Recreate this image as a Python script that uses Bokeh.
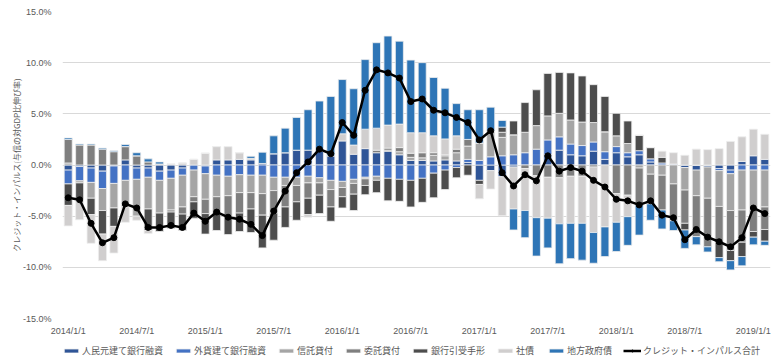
import numpy as np
from bokeh.plotting import figure
from bokeh.layouts import column
from bokeh.models import ColumnDataSource, Legend, LegendItem, FixedTicker, PrintfTickFormatter, Range1d
from bokeh.embed import file_html
from bokeh.resources import INLINE

# ---- data (percent, monthly 2014/1 .. 2019/2) ----
rmb = [-0.5, -0.15, -0.3, -0.6, -0.1, 0.5, -0.3, -0.3, -0.6, -0.5, -0.3, 0.0, -0.1, 0.5, 0.5, 0.55,
       0.5, 0.15, 1.1, 1.2, 1.45, 1.45, 1.35, 0.9, 2.35, 1.05, 1.6, 1.2, 1.35, 1.0, 0.45, 0.45,
       0.4, 0.5, 0.4, 0.25, -1.5, -0.55, -1.15, -0.2, 0.0, 0.0, 1.0, 1.45, 1.0, 0.9, 1.35, 0.55,
       1.2, 0.8, 1.0, 0.3, 0.0, 0.0, -0.25, -0.5, -0.2, -0.35, -0.5, 0.35, 0.9, 0.55]
fx = [-1.35, -1.4, -1.4, -1.7, -1.7, -1.5, -1.1, -0.9, -0.9, -0.8, -0.7, -0.5, -0.75, -1.0, -1.1, -0.95,
      -1.0, -1.0, -1.2, -1.2, -1.2, -1.1, -1.25, -1.5, -1.6, -1.4, -1.2, -1.1, -1.3, -1.4, -1.5, -1.3,
      -0.8, -0.5, -0.25, 0.3, 0.45, 0.8, 0.9, 1.0, 1.2, 1.55, 1.45, 1.3, 1.05, 1.0, 0.9, 0.75,
      0.6, 0.4, 0.4, 0.3, 0.2, 0.1, 0.0, 0.0, 0.0, -0.2, -0.35, -0.5, -0.5, -0.5]
trust = [0.2, -0.2, -1.55, -2.15, -2.4, -2.6, -3.6, -3.1, -3.2, -3.1, -3.1, -2.6, -2.5, -2.1, -1.9, -1.75,
         -1.7, -1.8, -1.3, -0.8, -0.8, -0.65, -0.5, -0.9, -0.6, -0.4, -0.15, -0.4, 0.1, 0.3, 0.3, 0.25,
         0.55, 0.4, 0.8, 1.3, 1.7, 2.55, 1.8, 1.95, 2.0, 2.3, 2.35, 2.3, 2.35, 2.3, 1.9, 1.95,
         1.05, 0.9, -0.3, -0.9, -1.0, -1.85, -2.2, -2.5, -3.05, -3.5, -3.6, -3.9, -3.9, -3.6]
entrusted = [2.3, 1.95, 1.95, 1.55, 1.3, 1.3, 0.9, 0.3, 0.1, -0.2, -0.7, -0.5, -1.4, -1.7, -2.1, -2.0,
             -1.6, -2.1, -2.2, -2.1, -1.6, -1.5, -1.2, -1.7, -0.9, -1.05, -0.65, 0.25, 0.2, 0.4, 0.4, 0.5,
             0.25, 0.1, 0.35, 0.65, 0.0, 0.0, 0.5, 0.0, -0.35, -1.05, -1.2, -1.25, -1.1, -1.1, -0.2, 0.0,
             -2.8, -2.95, -3.6, -2.9, -3.4, -3.6, -3.25, -4.0, -4.75, -3.5, -3.9, -3.15, -2.1, -2.2]
acceptance = [-2.1, -1.6, -1.6, -2.3, -1.8, 0.0, 0.0, -2.1, -1.8, -1.6, -1.6, -1.6, -2.0, -1.6, -1.7, -1.8,
              -2.3, -3.2, -2.65, -2.0, -1.8, -1.6, -1.8, -1.4, -1.1, -1.6, -0.9, -1.2, -2.2, -2.15, -2.6, -2.35,
              -2.4, -1.9, -1.0, -1.0, -0.4, 0.0, 0.5, 1.35, 2.9, 3.5, 4.15, 4.0, 4.6, 4.5, 3.7, 3.45,
              2.2, 2.2, 1.5, 1.1, 0.55, 0.0, -0.65, 0.0, 0.0, -1.5, -1.0, -1.4, -0.55, -1.15]
bonds = [-2.0, -2.0, -2.8, -2.6, -2.6, -1.5, -0.4, -0.3, 0.0, 0.1, 0.2, 0.55, 1.15, 1.3, 1.3, 0.65,
         0.15, 0.0, 0.0, 0.0, 0.0, -0.25, 0.0, 0.0, 0.7, 0.9, 1.9, 2.15, 2.25, 2.3, 2.0, 1.95,
         1.65, 1.55, 1.3, 0.0, -1.4, -1.8, -3.8, -4.1, -4.1, -4.1, -4.0, -4.5, -4.6, -4.6, -6.4, -6.05,
         -2.8, -2.1, 0.0, 0.0, 0.6, 1.1, 0.95, 1.55, 1.5, 1.6, 2.3, 2.4, 2.6, 2.45]
localgov = [0.15, 0.1, 0.1, 0.1, 0.1, 0.2, 0.3, 0.3, 0.2, 0.0, 0.0, 0.0, 0.0, 0.0, 0.0, 0.0,
            0.2, 1.1, 1.75, 2.4, 3.2, 3.95, 4.9, 5.8, 5.3, 5.5, 6.8, 8.35, 8.7, 8.1, 7.1, 6.85,
            5.7, 4.95, 3.15, 2.9, 3.25, 2.3, 0.65, -2.05, -2.65, -3.75, -2.9, -3.9, -3.45, -3.6, -3.0, -2.9,
            -2.85, -2.8, -2.95, -1.6, -1.85, -0.95, -1.8, -0.8, -0.5, -0.4, -0.9, -0.9, -0.75, -0.4]
impulse = [-3.2, -3.4, -5.7, -7.6, -7.1, -3.8, -4.2, -6.1, -6.1, -5.9, -6.1, -4.7, -5.5, -4.6, -5.1, -5.3,
           -5.8, -6.9, -4.5, -2.55, -0.75, 0.3, 1.55, 1.1, 4.15, 2.9, 7.3, 9.3, 9.0, 8.5, 6.2, 6.45,
           5.35, 5.1, 4.65, 4.15, 2.45, 3.35, -0.75, -2.05, -0.95, -1.55, 0.9, -0.6, -0.25, -0.6, -1.5, -2.15,
           -3.35, -3.5, -3.9, -3.5, -4.9, -5.15, -7.3, -6.3, -7.05, -7.5, -8.0, -7.1, -4.2, -4.75]

series_names = ["人民元建て銀行融資", "外貨建て銀行融資", "信託貸付", "委託貸付", "銀行引受手形", "社債", "地方政府債"]
line_name = "クレジット・インパルス合計"
tick_positions = [0, 6, 12, 18, 24, 30, 36, 42, 48, 54, 60]
tick_labels = ["2014/1/1", "2014/7/1", "2015/1/1", "2015/7/1", "2016/1/1", "2016/7/1",
               "2017/1/1", "2017/7/1", "2018/1/1", "2018/7/1", "2019/1/1"]
y_ticks = [-15, -10, -5, 0, 5, 10, 15]

colors = ["#2F5597", "#4472C4", "#A5A5A5", "#7F7F7F", "#4D4D4D", "#D0CECE", "#2E75B6"]
bar_edge = "#EDEDED"

n = len(impulse)
x = np.arange(n)

# ---------------- main chart ----------------
p = figure(width=780, height=340, output_backend="svg", toolbar_location=None,
           x_range=Range1d(-0.5, n - 0.5), y_range=Range1d(-15, 15),
           min_border_left=62, min_border_right=10, min_border_top=11, min_border_bottom=22)
p.outline_line_color = None
p.background_fill_color = "white"

pos_base = np.zeros(n)
neg_base = np.zeros(n)
sources = []
for vals, col in zip([rmb, fx, trust, entrusted, acceptance, bonds, localgov], colors):
    v = np.array(vals, dtype=float)
    bottom = np.where(v >= 0, pos_base, neg_base)
    top = bottom + v
    pos_base = pos_base + np.where(v > 0, v, 0)
    neg_base = neg_base + np.where(v < 0, v, 0)
    src = ColumnDataSource(dict(x=x, bottom=bottom, top=top))
    sources.append(src)
    p.vbar(x="x", bottom="bottom", top="top", width=0.7, source=src,
           fill_color=col, line_color=bar_edge, line_width=0.8)

lsrc = ColumnDataSource(dict(x=x, y=impulse))
p.line("x", "y", source=lsrc, line_color="black", line_width=2.5)
p.scatter("x", "y", source=lsrc, marker="circle", size=6, fill_color="black", line_color="black")

p.xaxis.ticker = FixedTicker(ticks=tick_positions)
p.xaxis.major_label_overrides = {t: l for t, l in zip(tick_positions, tick_labels)}
p.xaxis.axis_line_color = None
p.xaxis.major_tick_line_color = None
p.xaxis.minor_tick_line_color = None
p.xaxis.major_label_standoff = 1
p.xaxis.major_label_text_font = "Liberation Sans"
p.xaxis.major_label_text_font_size = "9px"
p.xaxis.major_label_text_color = "#595959"

p.yaxis.ticker = FixedTicker(ticks=y_ticks)
p.yaxis.formatter = PrintfTickFormatter(format="%.1f%%")
p.yaxis.axis_line_color = None
p.yaxis.major_tick_line_color = None
p.yaxis.minor_tick_line_color = None
p.yaxis.major_label_standoff = 5
p.yaxis.major_label_text_font = "Liberation Sans"
p.yaxis.major_label_text_font_size = "9px"
p.yaxis.major_label_text_color = "#595959"
p.yaxis.axis_label = "クレジット・インパルス(与信の対GDP比伸び率)"
p.yaxis.axis_label_text_font = "Noto Sans CJK JP"
p.yaxis.axis_label_text_font_size = "8px"
p.yaxis.axis_label_text_font_style = "normal"
p.yaxis.axis_label_text_color = "#595959"
p.yaxis.axis_label_standoff = -2

p.xgrid.grid_line_color = None
p.ygrid.ticker = FixedTicker(ticks=y_ticks)
p.ygrid.grid_line_color = "#D9D9D9"
p.ygrid.grid_line_width = 1

# ---------------- legend strip (same sources, data kept out of view) ----------------
lg = figure(width=780, height=21, output_backend="svg", toolbar_location=None,
            x_axis_location=None, y_axis_location=None,
            x_range=Range1d(-0.5, n - 0.5), y_range=Range1d(100, 101),
            min_border_left=0, min_border_right=0, min_border_top=0, min_border_bottom=0)
lg.outline_line_color = None
lg.xgrid.grid_line_color = None
lg.ygrid.grid_line_color = None

items = []
for nm, col, src in zip(series_names, colors, sources):
    r = lg.vbar(x="x", bottom="bottom", top="top", width=0.7, source=src,
                fill_color=col, line_color=bar_edge, line_width=0.8)
    items.append(LegendItem(label=nm, renderers=[r]))
r_line = lg.line("x", "y", source=lsrc, line_color="black", line_width=2.5)
r_dot = lg.scatter("x", "y", source=lsrc, marker="circle", size=6, fill_color="black", line_color="black")
items.append(LegendItem(label=line_name, renderers=[r_line, r_dot]))

# the column aligns this strip's frame with the chart frame (left edge at x=62)
legend = Legend(items=items, orientation="horizontal", location=(0, 4),
                glyph_width=18, glyph_height=5, label_standoff=2, spacing=11,
                padding=0, margin=0, border_line_color=None, background_fill_alpha=0,
                label_text_font="Noto Sans CJK JP", label_text_font_size="9px",
                label_text_color="#595959", label_height=9)
lg.add_layout(legend, "center")

layout = column(p, lg, spacing=0)
open("out.html", "w").write(file_html(layout, INLINE))
